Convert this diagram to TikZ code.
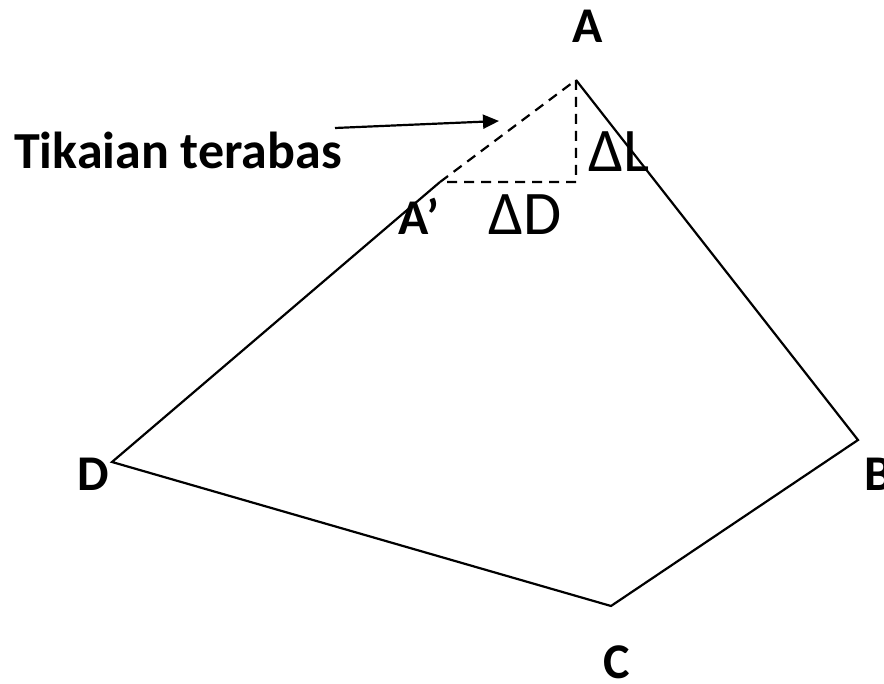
\documentclass[tikz,border=0pt]{standalone}
\usepackage{fontspec}
\setmainfont{Carlito}
\usetikzlibrary{arrows.meta}
\tikzset{
  side/.style={draw=black,line width=2.2pt},
  hidden/.style={draw=black,line width=2.2pt,dash pattern=on 10pt off 7pt},
  arr/.style={-{Stealth[length=16pt,width=14pt,inset=0pt]},line width=2.2pt,draw=black},
  ptlbl/.style={inner sep=0pt,anchor=base west,font=\fontsize{50}{60}\selectfont\bfseries},
  dlbl/.style={inner sep=0pt,anchor=base west,font=\fontsize{62}{74}\selectfont},
}
\begin{document}
\begin{tikzpicture}[x=1pt,y=-1pt]
  \fill[white] (0,0) rectangle (884,684);
  \useasboundingbox (0,0) rectangle (884,684);
  % corners of the traverse
  \coordinate (A) at (576,80);
  \coordinate (Ap) at (440,182);
  \coordinate (K) at (576,182);
  \coordinate (B) at (858,440);
  \coordinate (C) at (611,606);
  \coordinate (D) at (112,462);
  % sides
  \draw[side] (Ap) -- (D) -- (C) -- (B) -- (A);
  \draw[hidden] (Ap) -- (A) -- (K) -- cycle;
  % labels
  \node[ptlbl] (lA) at (572,43) {A};
  \node[ptlbl] (lAp) at (398,235) {A’};
  \node[ptlbl] (lB) at (864,490) {B};
  \node[ptlbl] (lC) at (603,678) {C};
  \node[ptlbl] (lD) at (77,490) {D};
  \node[dlbl] (dL) at (588,172) {ΔL};
  \node[dlbl] (dD) at (488,235) {ΔD};
  \node[ptlbl,font=\fontsize{52}{62}\selectfont\bfseries] (tt) at (14,169) {Tikaian terabas};
  \coordinate (arrS) at (335,128);
  \coordinate (arrE) at (499,121);
  \draw[arr] (arrS) -- (arrE);
\end{tikzpicture}
\end{document}
